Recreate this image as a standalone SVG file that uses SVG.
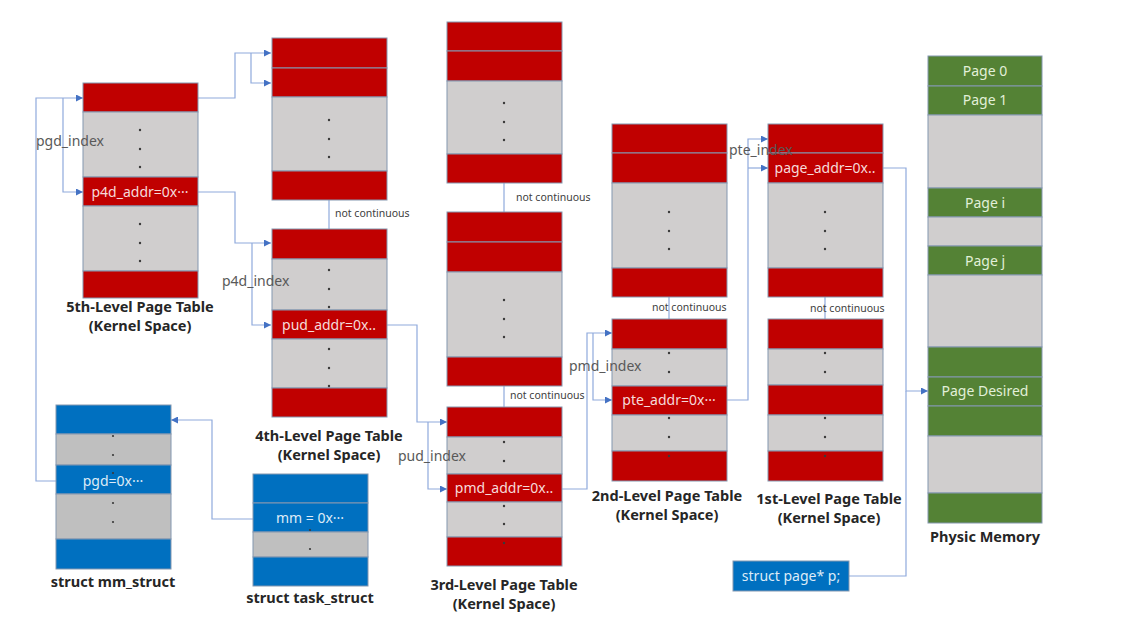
<svg xmlns="http://www.w3.org/2000/svg" width="1134" height="641" viewBox="0 0 1134 641">
<style>
.r{fill:#C00000;stroke:#8497B0;stroke-width:1}
.g{fill:#D0CECE;stroke:#8497B0;stroke-width:1}
.b{fill:#0070C0;stroke:#8497B0;stroke-width:1}
.s{fill:#BFBFBF;stroke:#8497B0;stroke-width:1}
.e{fill:#548235;stroke:#8497B0;stroke-width:1}
.cl{font-family:"Noto Sans","DejaVu Sans",sans-serif;font-size:14px;text-anchor:middle}
.cr{fill:#F6DADA}
.cb{fill:#DDEBF7}
.ce{fill:#E2F0D9}
.t{font-family:"Noto Sans","DejaVu Sans",sans-serif;font-size:14.5px;font-weight:bold;fill:#262626;text-anchor:middle}
.ix{font-family:"Noto Sans","DejaVu Sans",sans-serif;font-size:14px;fill:#595959}
.nc{font-family:"Noto Sans","DejaVu Sans",sans-serif;font-size:10.5px;fill:#404040}
.d{fill:#3A3A3A}
.c{fill:none;stroke:#8FAADC;stroke-width:1.2}
.ca{fill:none;stroke:#8FAADC;stroke-width:1.2;marker-end:url(#ah)}
</style>
<defs>
<marker id="ah" markerUnits="userSpaceOnUse" markerWidth="7" markerHeight="7" refX="7" refY="3.5" orient="auto">
<path d="M0,0 L7,3.5 L0,7 z" fill="#4472C4"/>
</marker>
</defs>
<rect width="1134" height="641" fill="#FFFFFF"/>

<g id="connectors">
<path class="ca" d="M56,481 H36 V98 H83"/>
<path class="ca" d="M63,98 V192 H83"/>
<path class="ca" d="M198,98 H235 V53 H271"/>
<path class="ca" d="M251,53 V83 H271"/>
<path class="ca" d="M198,192 H235 V243 H271"/>
<path class="ca" d="M252,243 V325 H271"/>
<path class="ca" d="M387,325 H417 V422 H447"/>
<path class="ca" d="M428,422 V489 H447"/>
<path class="ca" d="M562,489 H587 V333 H612"/>
<path class="ca" d="M593,333 V400 H612"/>
<path class="ca" d="M727,400 H748 V139 H768"/>
<path class="ca" d="M748,168 H768"/>
<path class="ca" d="M883,168 H906 V391 H928"/>
<path class="c" d="M849,576 H906 V391"/>
<path class="ca" d="M253,519 H212 V420 H171"/>
<path class="c" d="M329,200 V229"/>
<path class="c" d="M504,183 V212"/>
<path class="c" d="M504,386 V407"/>
<path class="c" d="M669,297 V319"/>
<path class="c" d="M825,297 V319"/>
</g>

<g id="pt5">
<rect class="r" x="83" y="83" width="115" height="29"/>
<rect class="g" x="83" y="112" width="115" height="65"/>
<rect class="r" x="83" y="177" width="115" height="29"/>
<rect class="g" x="83" y="206" width="115" height="65"/>
<rect class="r" x="83" y="271" width="115" height="27"/>
<text class="cl cr" x="140" y="197">p4d_addr=0x···</text>
<circle class="d" cx="140" cy="130" r="1.2"/><circle class="d" cx="140" cy="149" r="1.2"/><circle class="d" cx="140" cy="167" r="1.2"/>
<circle class="d" cx="140" cy="224" r="1.2"/><circle class="d" cx="140" cy="243" r="1.2"/><circle class="d" cx="140" cy="261" r="1.2"/>
<text class="t" x="140" y="312">5th-Level Page Table</text>
<text class="t" x="140" y="331">(Kernel Space)</text>
</g>

<g id="pt4a">
<rect class="r" x="272" y="38" width="115" height="30"/>
<rect class="r" x="272" y="68" width="115" height="29"/>
<rect class="g" x="272" y="97" width="115" height="74"/>
<rect class="r" x="272" y="171" width="115" height="29"/>
<circle class="d" cx="329" cy="120" r="1.2"/><circle class="d" cx="329" cy="139" r="1.2"/><circle class="d" cx="329" cy="157" r="1.2"/>
</g>

<g id="pt4b">
<rect class="r" x="272" y="229" width="115" height="30"/>
<rect class="g" x="272" y="259" width="115" height="51"/>
<rect class="r" x="272" y="310" width="115" height="29"/>
<rect class="g" x="272" y="339" width="115" height="49"/>
<rect class="r" x="272" y="388" width="115" height="29"/>
<text class="cl cr" x="329" y="330">pud_addr=0x..</text>
<circle class="d" cx="329" cy="270" r="1.2"/><circle class="d" cx="329" cy="289" r="1.2"/><circle class="d" cx="329" cy="307" r="1.2"/>
<circle class="d" cx="329" cy="349" r="1.2"/><circle class="d" cx="329" cy="368" r="1.2"/><circle class="d" cx="329" cy="386" r="1.2"/>
<text class="t" x="329" y="441">4th-Level Page Table</text>
<text class="t" x="329" y="460">(Kernel Space)</text>
</g>

<g id="pt3a">
<rect class="r" x="447" y="22" width="115" height="29"/>
<rect class="r" x="447" y="51" width="115" height="30"/>
<rect class="g" x="447" y="81" width="115" height="73"/>
<rect class="r" x="447" y="154" width="115" height="29"/>
<circle class="d" cx="504" cy="103" r="1.2"/><circle class="d" cx="504" cy="122" r="1.2"/><circle class="d" cx="504" cy="140" r="1.2"/>
</g>

<g id="pt3b">
<rect class="r" x="447" y="212" width="115" height="30"/>
<rect class="r" x="447" y="242" width="115" height="30"/>
<rect class="g" x="447" y="272" width="115" height="85"/>
<rect class="r" x="447" y="357" width="115" height="29"/>
<circle class="d" cx="504" cy="300" r="1.2"/><circle class="d" cx="504" cy="319" r="1.2"/><circle class="d" cx="504" cy="337" r="1.2"/>
</g>

<g id="pt3c">
<rect class="r" x="447" y="407" width="115" height="30"/>
<rect class="g" x="447" y="437" width="115" height="37"/>
<rect class="r" x="447" y="474" width="115" height="28"/>
<rect class="g" x="447" y="502" width="115" height="35"/>
<rect class="r" x="447" y="537" width="115" height="29"/>
<text class="cl cr" x="504" y="493">pmd_addr=0x..</text>
<circle class="d" cx="504" cy="442" r="1.2"/><circle class="d" cx="504" cy="461" r="1.2"/>
<circle class="d" cx="504" cy="506" r="1.2"/><circle class="d" cx="504" cy="524" r="1.2"/><circle class="d" cx="504" cy="543" r="1.2"/>
<text class="t" x="504" y="590">3rd-Level Page Table</text>
<text class="t" x="504" y="609">(Kernel Space)</text>
</g>

<g id="pt2a">
<rect class="r" x="612" y="124" width="115" height="29"/>
<rect class="r" x="612" y="153" width="115" height="30"/>
<rect class="g" x="612" y="183" width="115" height="85"/>
<rect class="r" x="612" y="268" width="115" height="29"/>
<circle class="d" cx="669" cy="212" r="1.2"/><circle class="d" cx="669" cy="231" r="1.2"/><circle class="d" cx="669" cy="249" r="1.2"/>
</g>

<g id="pt2b">
<rect class="r" x="612" y="319" width="115" height="30"/>
<rect class="g" x="612" y="349" width="115" height="37"/>
<rect class="r" x="612" y="386" width="115" height="29"/>
<rect class="g" x="612" y="415" width="115" height="36"/>
<rect class="r" x="612" y="451" width="115" height="30"/>
<text class="cl cr" x="669" y="405">pte_addr=0x···</text>
<circle class="d" cx="669" cy="353" r="1.2"/><circle class="d" cx="669" cy="372" r="1.2"/>
<circle class="d" cx="669" cy="418" r="1.2"/><circle class="d" cx="669" cy="437" r="1.2"/><circle class="d" cx="669" cy="456" r="1.2"/>
<text class="t" x="667" y="501">2nd-Level Page Table</text>
<text class="t" x="667" y="520">(Kernel Space)</text>
</g>

<g id="pt1a">
<rect class="r" x="768" y="124" width="115" height="29"/>
<rect class="r" x="768" y="153" width="115" height="30"/>
<rect class="g" x="768" y="183" width="115" height="85"/>
<rect class="r" x="768" y="268" width="115" height="29"/>
<text class="cl cr" x="825" y="173">page_addr=0x..</text>
<circle class="d" cx="825" cy="212" r="1.2"/><circle class="d" cx="825" cy="231" r="1.2"/><circle class="d" cx="825" cy="249" r="1.2"/>
</g>

<g id="pt1b">
<rect class="r" x="768" y="319" width="115" height="30"/>
<rect class="g" x="768" y="349" width="115" height="36"/>
<rect class="r" x="768" y="385" width="115" height="30"/>
<rect class="g" x="768" y="415" width="115" height="36"/>
<rect class="r" x="768" y="451" width="115" height="30"/>
<circle class="d" cx="825" cy="353" r="1.2"/><circle class="d" cx="825" cy="372" r="1.2"/>
<circle class="d" cx="825" cy="418" r="1.2"/><circle class="d" cx="825" cy="437" r="1.2"/><circle class="d" cx="825" cy="456" r="1.2"/>
<text class="t" x="829" y="504">1st-Level Page Table</text>
<text class="t" x="829" y="523">(Kernel Space)</text>
</g>

<g id="physmem">
<rect class="e" x="928" y="56" width="114" height="30"/>
<rect class="e" x="928" y="86" width="114" height="29"/>
<rect class="g" x="928" y="115" width="114" height="73"/>
<rect class="e" x="928" y="188" width="114" height="29"/>
<rect class="g" x="928" y="217" width="114" height="29"/>
<rect class="e" x="928" y="246" width="114" height="29"/>
<rect class="g" x="928" y="275" width="114" height="72"/>
<rect class="e" x="928" y="347" width="114" height="30"/>
<rect class="e" x="928" y="377" width="114" height="29"/>
<rect class="e" x="928" y="406" width="114" height="30"/>
<rect class="g" x="928" y="436" width="114" height="57"/>
<rect class="e" x="928" y="493" width="114" height="30"/>
<text class="cl ce" x="985" y="76">Page 0</text>
<text class="cl ce" x="985" y="105">Page 1</text>
<text class="cl ce" x="985" y="208">Page i</text>
<text class="cl ce" x="985" y="266">Page j</text>
<text class="cl ce" x="985" y="396">Page Desired</text>
<text class="t" x="985" y="542">Physic Memory</text>
</g>

<g id="mm_struct">
<rect class="b" x="56" y="405" width="115" height="29"/>
<rect class="s" x="56" y="434" width="115" height="31"/>
<rect class="b" x="56" y="465" width="115" height="29"/>
<rect class="s" x="56" y="494" width="115" height="45"/>
<rect class="b" x="56" y="539" width="115" height="30"/>
<text class="cl cb" x="113" y="486">pgd=0x···</text>
<circle class="d" cx="113" cy="436" r="1.1"/><circle class="d" cx="113" cy="455" r="1.1"/><circle class="d" cx="113" cy="473" r="1.1"/>
<circle class="d" cx="113" cy="503" r="1.1"/><circle class="d" cx="113" cy="522" r="1.1"/>
<text class="t" x="113" y="587">struct mm_struct</text>
</g>

<g id="task_struct">
<rect class="b" x="253" y="474" width="115" height="29"/>
<rect class="b" x="253" y="503" width="115" height="29"/>
<rect class="s" x="253" y="532" width="115" height="25"/>
<rect class="b" x="253" y="557" width="115" height="29"/>
<text class="cl cb" x="310" y="523">mm = 0x···</text>
<circle class="d" cx="310" cy="530" r="1.1"/><circle class="d" cx="310" cy="549" r="1.1"/>
<text class="t" x="310" y="603">struct task_struct</text>
</g>

<g id="struct_page">
<rect class="b" x="733" y="561" width="116" height="30"/>
<text class="cl cb" x="791" y="581">struct page* p;</text>
</g>

<g id="labels">
<text class="ix" x="36" y="146">pgd_index</text>
<text class="ix" x="222" y="286">p4d_index</text>
<text class="ix" x="398" y="461">pud_index</text>
<text class="ix" x="569" y="371">pmd_index</text>
<text class="ix" x="729" y="155">pte_index</text>
<text class="nc" x="335" y="217">not continuous</text>
<text class="nc" x="516" y="201">not continuous</text>
<text class="nc" x="510" y="399">not continuous</text>
<text class="nc" x="652" y="311">not continuous</text>
<text class="nc" x="810" y="312">not continuous</text>
</g>
</svg>
